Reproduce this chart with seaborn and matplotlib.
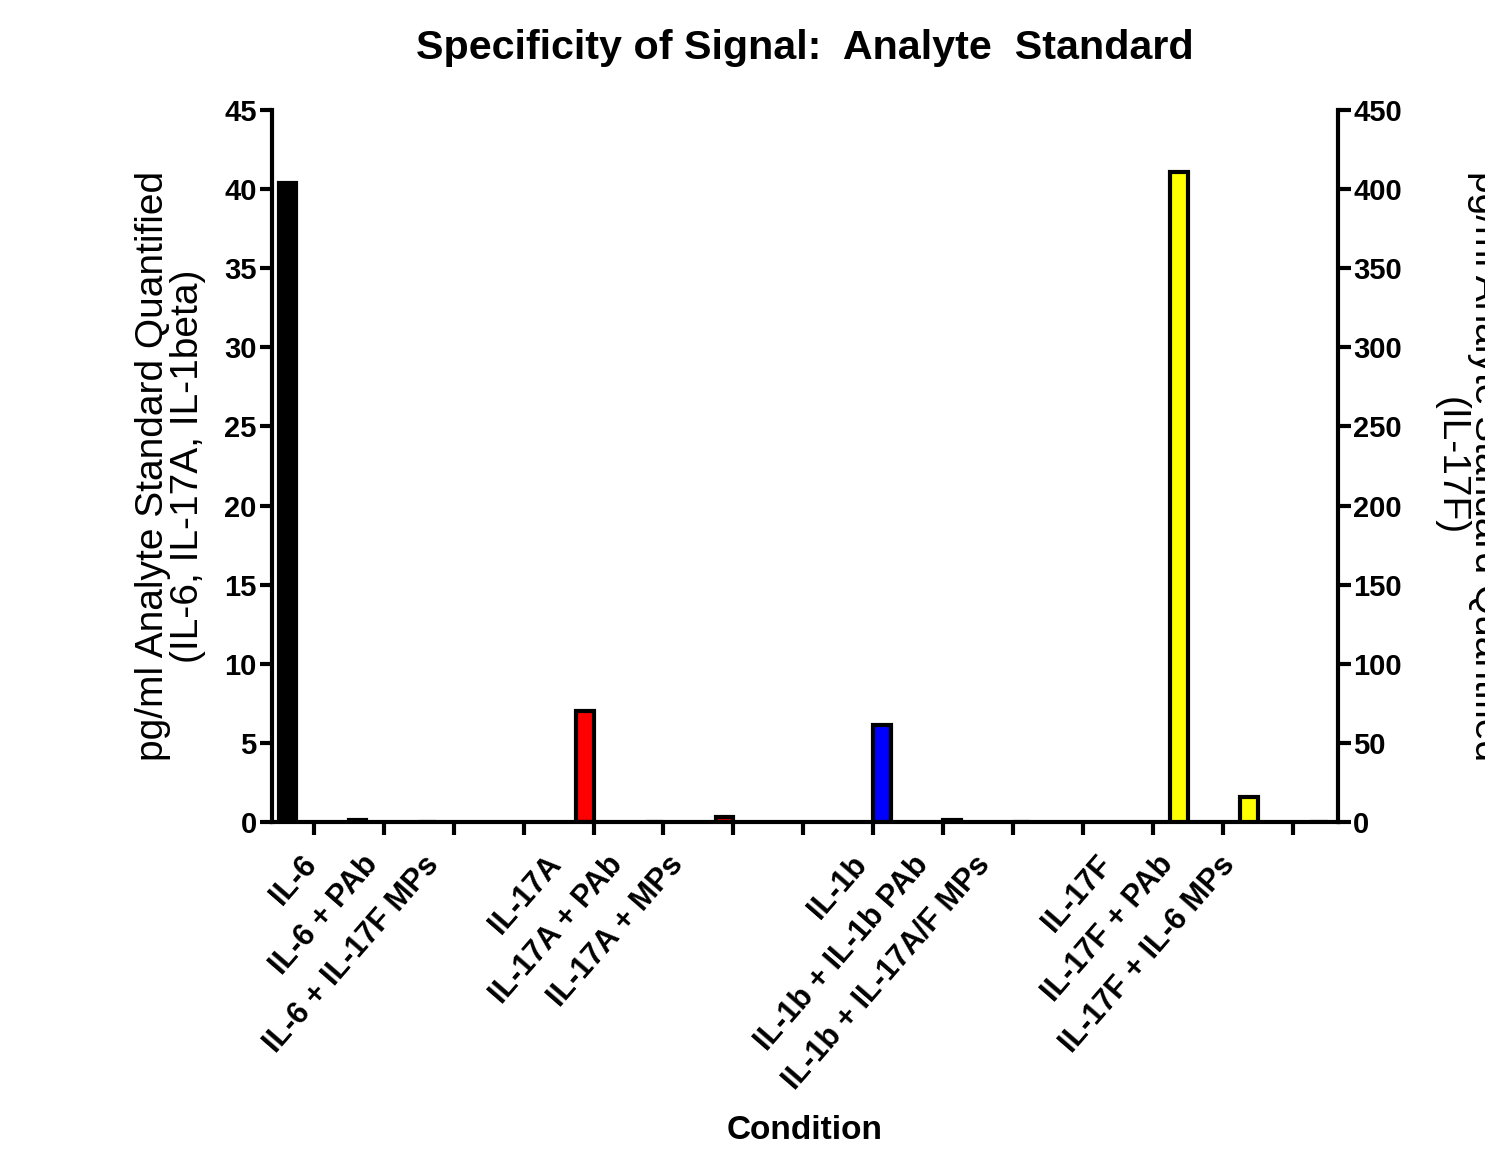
import numpy as np
import pandas as pd
import matplotlib
matplotlib.use("Agg")
import matplotlib.pyplot as plt
import seaborn as sns

# ---------------- data ----------------
conditions = [
    "IL-6", "IL-6 + PAb", "IL-6 + IL-17F MPs", "gap1",
    "IL-17A", "IL-17A + PAb", "IL-17A + MPs", "gap2",
    "IL-1b", "IL-1b + IL-1b PAb", "IL-1b + IL-17A/F MPs", "gap3",
    "IL-17F", "IL-17F + PAb", "IL-17F + IL-6 MPs",
]
analytes = ["IL-6", "IL-17A", "IL-1b", "IL-17F"]
colors = ["#000000", "#ff0000", "#0000ff", "#ffff00"]

il6_conditions = ["IL-6", "IL-6 + PAb", "IL-6 + IL-17F MPs"]
il6_values = [40.4, 0.15, 0.0]
il17a_conditions = ["IL-17A", "IL-17A + PAb", "IL-17A + MPs"]
il17a_values = [7.0, 0.0, 0.3]
il1b_conditions = ["IL-1b", "IL-1b + IL-1b PAb", "IL-1b + IL-17A/F MPs"]
il1b_values = [6.1, 0.15, 0.0]
il17f_conditions = ["IL-17F", "IL-17F + PAb", "IL-17F + IL-6 MPs"]
il17f_values = [411.0, 16.0, 0.0]

left_ticks = [0, 5, 10, 15, 20, 25, 30, 35, 40, 45]
right_ticks = [0, 50, 100, 150, 200, 250, 300, 350, 400, 450]

# ---------------- tables ----------------
def frame(conds, vals, name):
    return pd.DataFrame({"condition": conds, "value": vals, "analyte": name})

df_left = pd.concat([
    frame(il6_conditions, il6_values, "IL-6"),
    frame(il17a_conditions, il17a_values, "IL-17A"),
    frame(il1b_conditions, il1b_values, "IL-1b"),
], ignore_index=True)
df_right = frame(il17f_conditions, il17f_values, "IL-17F")
palette = dict(zip(analytes, colors))

# ---------------- style ----------------
sns.set_style("ticks")
plt.rcParams["font.family"] = ["Liberation Sans", "DejaVu Sans"]
plt.rcParams["font.weight"] = "bold"
for key in ["text.color", "axes.labelcolor", "xtick.color", "ytick.color",
            "axes.edgecolor"]:
    plt.rcParams[key] = "black"

W, H = 1485, 1156
fig = plt.figure(figsize=(W / 100, H / 100), dpi=100)
ax = fig.add_axes([272 / W, 1 - 822 / H, (1338 - 272) / W, (822 - 110) / H])

common = dict(x="condition", y="value", hue="analyte", order=conditions,
              hue_order=analytes, palette=palette, width=1.0, dodge=True,
              edgecolor="black", linewidth=3, errorbar=None, legend=False,
              saturation=1)
sns.barplot(data=df_left, ax=ax, **common)
ax2 = ax.twinx()
sns.barplot(data=df_right, ax=ax2, **common)

ax.set_ylim(0, 45)
ax2.set_ylim(0, 450)
ax.set_yticks(left_ticks)
ax2.set_yticks(right_ticks)
ax.set_xlim(-0.6, 14.65)

for a in (ax, ax2):
    for s in a.spines.values():
        s.set_linewidth(3)
        s.set_color("black")
    a.spines["top"].set_visible(False)
ax.spines["right"].set_visible(False)
ax2.spines["left"].set_visible(False)
ax2.spines["bottom"].set_visible(False)

ax.tick_params(axis="y", length=9, width=3, labelsize=21, pad=2)
ax2.tick_params(axis="y", length=9, width=3, labelsize=21, pad=2)

# tick marks at each condition slot, labels on a separate (GraphPad-like) grid
ax.xaxis.remove_overlapping_locs = False
ax.set_xticks(range(len(conditions)))
ax.set_xticklabels([""] * len(conditions))
ax.tick_params(axis="x", which="major", length=9, width=3)
label_slots = [0, 1, 2, 4, 5, 6, 9, 10, 11, 13, 14, 15]
tick_labels = [c for c in conditions if not c.startswith("gap")]
slot_step = 61.3 / 70.0
label_pos = [-0.2 + s * slot_step for s in label_slots]
ax.set_xticks(label_pos, minor=True)
ax.set_xticklabels(tick_labels, minor=True, rotation=49, ha="right",
                   va="top", rotation_mode="anchor", fontsize=22,
                   fontweight="bold")
ax.tick_params(axis="x", which="minor", length=0, pad=20)

ax.set_xlabel("Condition", fontsize=24, fontweight="bold")
ax.xaxis.set_label_coords(0.5, -0.412)
ax.set_ylabel("pg/ml Analyte Standard Quantified\n(IL-6, IL-17A, IL-1beta)",
              fontsize=28, fontweight="normal", linespacing=0.95)
ax.yaxis.set_label_coords(-0.062, 0.5)
ax2.set_ylabel("pg/ml Analyte Standard Quantified\n(IL-17F)", fontsize=28,
               fontweight="normal", rotation=270, va="bottom", linespacing=0.95)
ax2.yaxis.set_label_coords(1.089, 0.5)

ax.set_title("Specificity of Signal:  Analyte  Standard", fontsize=29.7,
             fontweight="bold", pad=37)

fig.savefig("out.png", dpi=100)
